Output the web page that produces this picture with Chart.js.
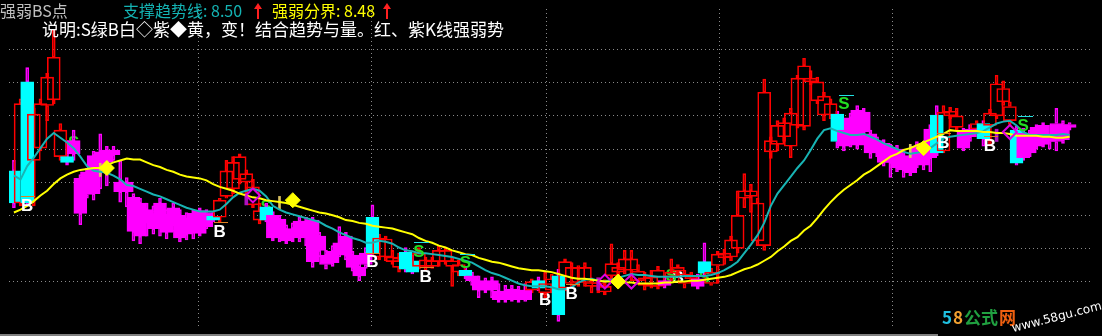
<!DOCTYPE html>
<html>
<head>
<meta charset="utf-8">
<script src="https://cdn.jsdelivr.net/npm/chart.js@4.4.1/dist/chart.umd.min.js"></script>
<style>
  html, body { margin: 0; padding: 0; background: #000; }
  #c { display: block; background: #000; }
</style>
</head>
<body>
<canvas id="c" width="1102" height="336"></canvas>
<script>
// K-line kinds: r = red hollow, m = magenta filled, c = cyan filled
const kinds = ('crcrrrrrcm' + 'mmmmmmmmmm' + 'mmmmmmmmmm' + 'crrrrrrrcm' + 'mmmmmmmmmm' +
  'mmmmcrrrrc' + 'crrrrrrrcm' + 'mmmmmmmmrc' + 'rrcrrrrrrr' + 'rrrrrrrrmr' +
  'rrrmcrrrrr' + 'rrrrrrrrrr' + 'rrrrcmmmmm' + 'mmmmmmmmmc' + 'rrrmmrcrrr' + 'rcmmmmmmmm').split('');

const opens = [
  8.12, 7.78, 9.06, 8.23, 8.36, 8.81, 8.87, 8.27, 8.27, 8.44,
  8.04, 8.11, 8.28, 8.32, 8.34, 8.34, 8.00, 8.00, 7.84, 7.78,
  7.71, 7.68, 7.78, 7.65, 7.73, 7.65, 7.61, 7.67, 7.70, 7.68,
  7.64, 7.63, 7.85, 7.93, 8.03, 8.00, 7.76, 7.60, 7.74, 7.65,
  7.61, 7.50, 7.51, 7.59, 7.59, 7.60, 7.43, 7.23, 7.27, 7.36,
  7.43, 7.23, 7.10, 7.25, 7.63, 7.21, 7.21, 7.16, 7.10, 7.26,
  7.17, 7.11, 7.11, 7.11, 7.16, 7.16, 7.11, 7.05, 7.07, 7.01,
  6.96, 6.95, 6.96, 6.85, 6.85, 6.87, 6.86, 6.86, 6.86, 6.96,
  6.83, 6.86, 7.01, 6.88, 6.93, 6.94, 6.94, 6.90, 6.90, 6.84,
  7.01, 7.05, 7.07, 7.07, 6.96, 6.91, 6.90, 6.90, 6.96, 7.00,
  7.06, 6.93, 6.98, 6.98, 7.16, 6.93, 7.12, 7.20, 7.21, 7.30,
  7.83, 7.85, 7.38, 7.33, 8.32, 8.40, 8.48, 8.38, 8.60, 8.59,
  9.06, 8.86, 8.71, 8.71, 8.72, 8.55, 8.68, 8.76, 8.74, 8.51,
  8.44, 8.41, 8.36, 8.35, 8.28, 8.25, 8.38, 8.33, 8.56, 8.71,
  8.33, 8.70, 8.58, 8.53, 8.56, 8.56, 8.62, 8.60, 8.70, 8.85,
  8.65, 8.55, 8.52, 8.51, 8.58, 8.60, 8.48, 8.62, 8.61, 8.61
];
const closes = [
  7.78, 8.83, 7.78, 8.72, 8.83, 9.11, 9.32, 8.55, 8.21, 8.30,
  7.67, 7.87, 7.88, 8.13, 8.21, 8.29, 7.90, 7.90, 7.48, 7.43,
  7.58, 7.51, 7.55, 7.47, 7.55, 7.41, 7.45, 7.48, 7.46, 7.53,
  7.60, 7.81, 8.12, 8.21, 8.27, 8.09, 7.95, 7.70, 7.60, 7.41,
  7.41, 7.38, 7.43, 7.41, 7.43, 7.16, 7.28, 7.13, 7.15, 7.25,
  7.23, 7.10, 7.01, 7.13, 7.25, 7.41, 7.40, 7.21, 7.20, 7.08,
  7.05, 7.25, 7.18, 7.17, 7.28, 7.28, 7.17, 7.13, 7.01, 6.96,
  6.86, 6.86, 6.86, 6.76, 6.76, 6.77, 6.76, 6.76, 6.95, 6.88,
  6.93, 6.98, 6.60, 7.16, 7.10, 7.10, 7.10, 6.94, 6.94, 6.90,
  7.14, 7.10, 7.19, 7.19, 7.06, 6.99, 7.00, 7.07, 6.91, 7.05,
  7.10, 7.03, 7.01, 6.90, 7.04, 7.05, 7.24, 7.25, 7.39, 7.65,
  7.91, 7.91, 7.78, 8.95, 8.44, 8.60, 8.63, 8.73, 9.10, 9.23,
  9.10, 9.06, 8.91, 8.83, 8.43, 8.38, 8.41, 8.39, 8.53, 8.31,
  8.31, 8.21, 8.21, 8.15, 8.13, 8.10, 8.20, 8.18, 8.26, 8.31,
  8.74, 8.75, 8.70, 8.36, 8.48, 8.62, 8.46, 8.73, 9.04, 8.99,
  8.80, 8.20, 8.26, 8.31, 8.38, 8.40, 8.43, 8.43, 8.45, 8.58
];
const highs = [
  8.23, 8.88, 9.21, 8.78, 8.88, 9.15, 9.61, 8.62, 8.44, 8.55,
  8.08, 8.15, 8.33, 8.51, 8.38, 8.38, 8.23, 8.05, 7.88, 7.83,
  7.78, 7.75, 7.83, 7.71, 7.78, 7.71, 7.68, 7.71, 7.73, 7.71,
  7.68, 7.83, 8.23, 8.27, 8.30, 8.13, 8.03, 7.78, 7.78, 7.69,
  7.65, 7.55, 7.57, 7.63, 7.63, 7.63, 7.47, 7.28, 7.33, 7.53,
  7.47, 7.27, 7.15, 7.31, 7.76, 7.45, 7.43, 7.28, 7.25, 7.31,
  7.23, 7.31, 7.21, 7.21, 7.33, 7.31, 7.21, 7.18, 7.11, 7.05,
  7.01, 6.99, 7.00, 6.93, 6.91, 6.91, 6.90, 6.93, 6.98, 7.00,
  7.05, 7.03, 7.08, 7.19, 7.15, 7.12, 7.15, 6.99, 6.99, 6.97,
  7.35, 7.15, 7.28, 7.28, 7.13, 7.05, 7.07, 7.11, 7.01, 7.19,
  7.13, 7.07, 7.05, 7.03, 7.36, 7.09, 7.27, 7.29, 7.43, 7.91,
  8.09, 7.98, 7.83, 9.09, 8.48, 8.65, 8.68, 8.78, 9.13, 9.31,
  9.18, 9.11, 8.95, 8.88, 8.75, 8.63, 8.73, 8.81, 8.78, 8.55,
  8.48, 8.45, 8.40, 8.39, 8.33, 8.29, 8.43, 8.37, 8.61, 8.81,
  8.81, 8.79, 8.78, 8.57, 8.61, 8.65, 8.65, 8.77, 9.13, 9.07,
  8.85, 8.59, 8.57, 8.55, 8.61, 8.63, 8.51, 8.78, 8.65, 8.63
];
const lows = [
  7.73, 7.75, 7.76, 7.75, 8.33, 8.65, 8.83, 8.23, 8.18, 8.23,
  7.55, 7.83, 7.81, 7.93, 7.96, 8.23, 7.79, 7.74, 7.38, 7.35,
  7.43, 7.45, 7.43, 7.40, 7.48, 7.37, 7.39, 7.40, 7.43, 7.51,
  7.58, 7.58, 7.83, 7.88, 7.98, 7.88, 7.73, 7.56, 7.58, 7.38,
  7.37, 7.35, 7.37, 7.37, 7.33, 7.10, 7.21, 7.08, 7.11, 7.21,
  7.18, 7.06, 6.96, 7.09, 7.21, 7.18, 7.17, 7.13, 7.05, 7.05,
  7.03, 7.08, 7.07, 7.09, 7.11, 7.13, 6.90, 7.01, 6.98, 6.91,
  6.78, 6.83, 6.78, 6.73, 6.73, 6.74, 6.73, 6.74, 6.83, 6.85,
  6.78, 6.83, 6.53, 6.85, 6.88, 6.90, 6.90, 6.83, 6.83, 6.81,
  6.98, 6.93, 7.03, 6.96, 6.93, 6.86, 6.88, 6.87, 6.88, 6.96,
  7.01, 6.88, 6.95, 6.87, 7.01, 6.91, 6.93, 7.13, 7.17, 7.25,
  7.73, 7.68, 7.33, 7.28, 8.25, 8.33, 8.43, 8.26, 8.57, 8.55,
  9.03, 8.83, 8.65, 8.67, 8.36, 8.33, 8.37, 8.35, 8.48, 8.25,
  8.27, 8.17, 8.05, 8.11, 8.05, 8.07, 8.15, 8.13, 8.11, 8.28,
  8.31, 8.67, 8.55, 8.33, 8.43, 8.53, 8.38, 8.38, 8.67, 8.81,
  8.61, 8.18, 8.23, 8.27, 8.35, 8.37, 8.35, 8.33, 8.41, 8.55
];

// 支撑趋势线 (cyan) and 强弱分界 (yellow)
const supportLine = [
  8.07, 8.03, 8.17, 8.26, 8.36, 8.46, 8.52, 8.47, 8.42, 8.36,
  8.27, 8.17, 8.12, 8.11, 8.10, 8.07, 8.03, 7.97, 7.96, 7.93,
  7.90, 7.87, 7.85, 7.82, 7.79, 7.76, 7.73, 7.71, 7.69, 7.69,
  7.69, 7.71, 7.77, 7.84, 7.89, 7.91, 7.93, 7.91, 7.85, 7.75,
  7.71, 7.68, 7.66, 7.64, 7.62, 7.60, 7.58, 7.54, 7.51, 7.47,
  7.44, 7.41, 7.39, 7.36, 7.36, 7.38, 7.37, 7.35, 7.31, 7.28,
  7.27, 7.25, 7.25, 7.24, 7.23, 7.22, 7.21, 7.19, 7.17, 7.15,
  7.11, 7.07, 7.04, 7.02, 6.99, 6.96, 6.93, 6.91, 6.90, 6.90,
  6.90, 6.89, 6.87, 6.87, 6.89, 6.94, 6.97, 6.98, 6.96, 6.95,
  6.97, 6.99, 7.01, 7.03, 7.02, 7.02, 7.01, 7.00, 7.00, 7.00,
  7.00, 7.01, 7.01, 7.01, 7.01, 7.02, 7.04, 7.07, 7.11, 7.16,
  7.25, 7.34, 7.44, 7.57, 7.75, 7.88, 7.97, 8.06, 8.15, 8.23,
  8.34, 8.46, 8.55, 8.57, 8.54, 8.52, 8.50, 8.50, 8.51, 8.48,
  8.45, 8.41, 8.38, 8.35, 8.32, 8.30, 8.31, 8.33, 8.36, 8.41,
  8.46, 8.48, 8.49, 8.50, 8.51, 8.52, 8.54, 8.58, 8.62, 8.64,
  8.65, 8.60, 8.53, 8.50, 8.50, 8.50, 8.50, 8.50, 8.51, 8.50
];
const boundaryLine = [
  7.68, 7.71, 7.75, 7.80, 7.86, 7.91, 7.98, 8.04, 8.08, 8.11,
  8.13, 8.14, 8.15, 8.15, 8.18, 8.21, 8.23, 8.25, 8.24, 8.24,
  8.21, 8.18, 8.16, 8.13, 8.11, 8.08, 8.06, 8.05, 8.04, 8.02,
  7.98, 7.95, 7.93, 7.91, 7.88, 7.86, 7.84, 7.83, 7.81, 7.80,
  7.79, 7.78, 7.76, 7.74, 7.72, 7.70, 7.68, 7.67, 7.65, 7.63,
  7.60, 7.59, 7.57, 7.56, 7.54, 7.53, 7.52, 7.51, 7.49, 7.47,
  7.45, 7.41, 7.38, 7.36, 7.33, 7.31, 7.28, 7.26, 7.24, 7.23,
  7.20, 7.18, 7.16, 7.15, 7.13, 7.11, 7.09, 7.08, 7.07, 7.07,
  7.06, 7.05, 7.03, 7.01, 6.99, 6.98, 6.98, 6.97, 6.96, 6.95,
  6.95, 6.94, 6.94, 6.94, 6.93, 6.93, 6.93, 6.93, 6.94, 6.94,
  6.95, 6.95, 6.96, 6.96, 6.97, 6.98, 6.99, 7.00, 7.02, 7.05,
  7.08, 7.10, 7.13, 7.17, 7.21, 7.27, 7.32, 7.38, 7.42, 7.49,
  7.54, 7.62, 7.71, 7.79, 7.86, 7.92, 7.97, 8.02, 8.08, 8.12,
  8.17, 8.22, 8.27, 8.30, 8.34, 8.36, 8.39, 8.42, 8.45, 8.48,
  8.51, 8.55, 8.54, 8.54, 8.54, 8.54, 8.53, 8.53, 8.52, 8.52,
  8.51, 8.49, 8.49, 8.49, 8.49, 8.48, 8.48, 8.47, 8.47, 8.48
];

// signals: B (white), S (green), hidden = drawn under the K lines
const buyIdx = [2, 31, 54, 62, 80, 84, 100, 140, 147];
const buyVal = [7.75, 7.47, 7.15, 7.00, 6.75, 6.82, 6.98, 8.41, 8.38];
const buyHidden = [0, 0, 0, 0, 1, 0, 1, 0, 0];
const sellIdx = [9, 38, 61, 68, 99, 104, 125, 143, 152];
const sellVal = [8.41, 7.73, 7.26, 7.14, 7.01, 6.98, 8.82, 8.45, 8.59];
const sellHidden = [1, 1, 0, 0, 1, 1, 0, 1, 0];

// diamonds: ◆ yellow, ◇ purple
const yellowDiaIdx = [14, 42, 91, 137];
const yellowDiaVal = [8.15, 7.81, 6.95, 8.36];
const purpleDiaIdx = [36, 89, 93, 150];
const purpleDiaVal = [7.86, 6.95, 6.95, 8.53];

// small sticks
const purpleStickIdx = [35, 88, 148];
const purpleStickLo = [7.76, 6.86, 8.43];
const purpleStickHi = [7.88, 6.99, 8.56];
const yellowStickIdx = [13, 40, 135];
const yellowStickLo = [8.06, 7.71, 8.26];
const yellowStickHi = [8.20, 7.85, 8.40];

// grid positions (price levels / bar index)
const yGrid = [9.40, 9.05, 8.70, 8.35, 8.00, 7.65, 7.30, 6.95];
const xGrid = [27.85, 53.93, 80.15, 106.22, 132.3];

const fill = { r: 'rgba(0,0,0,0)', m: '#ff00ff', c: '#00ffff' };
const edge = { r: '#ff0000', m: '#ff00ff', c: '#00ffff' };
const wick = { r: '#ff0000', m: '#ff00ff', c: '#ff00ff' };

const bodies = opens.map((o, i) => ({ x: i, y: [o, closes[i]] }));
const upper = opens.map((o, i) => ({ x: i, y: [Math.max(o, closes[i]), highs[i]] }));
const lower = opens.map((o, i) => ({ x: i, y: [lows[i], Math.min(o, closes[i])] }));

const cjk = '"Noto Sans CJK SC", sans-serif';

const drawSigns = (chart, hidden) => {
  const ctx = chart.ctx;
  const xs = chart.scales.x, ys = chart.scales.y;
  ctx.save();
  ctx.font = 'bold 17px "Liberation Sans", Arial, sans-serif';
  ctx.textAlign = 'center';
  ctx.textBaseline = 'middle';
  buyIdx.forEach((k, j) => {
    if (!!buyHidden[j] !== hidden) return;
    const x = xs.getPixelForValue(k), y = ys.getPixelForValue(buyVal[j]);
    if (!hidden) {
      ctx.fillStyle = '#e08020';
      ctx.fillRect(Math.round(x - 6), Math.round(y - 10), 14, 1);
    }
    ctx.fillStyle = '#ffffff';
    ctx.fillText('B', x, y);
  });
  sellIdx.forEach((k, j) => {
    if (!!sellHidden[j] !== hidden) return;
    const x = xs.getPixelForValue(k), y = ys.getPixelForValue(sellVal[j]);
    if (!hidden) {
      ctx.fillStyle = '#20e0e0';
      ctx.fillRect(Math.round(x - 5), Math.round(y - 10), 15, 1);
    }
    ctx.fillStyle = '#22dd22';
    ctx.fillText('S', x, y);
  });
  ctx.restore();
};

const drawArrow = (ctx, x) => {
  ctx.fillStyle = '#ff2020';
  ctx.fillRect(x, 5, 2, 14);
  ctx.beginPath();
  ctx.moveTo(x - 3, 9);
  ctx.lineTo(x + 1, 3);
  ctx.lineTo(x + 5, 9);
  ctx.closePath();
  ctx.fill();
};

const overlay = {
  id: 'overlay',
  beforeDatasetsDraw(chart) { drawSigns(chart, true); },
  afterDatasetsDraw(chart) { drawSigns(chart, false); },
  afterDraw(chart) {
    const ctx = chart.ctx;
    ctx.save();
    // frame lines
    ctx.fillStyle = '#808080';
    ctx.fillRect(0, 334, 938, 2);

    // title
    ctx.textBaseline = 'middle';
    ctx.textAlign = 'left';
    ctx.font = '16px ' + cjk;
    ctx.fillStyle = '#c0c0c0';
    ctx.fillText('强弱BS点', 0, 11);
    ctx.fillStyle = '#14b4b4';
    ctx.fillText('支撑趋势线: ' + supportLine[supportLine.length - 1].toFixed(2), 123, 11);
    drawArrow(ctx, 257);
    ctx.fillStyle = '#ffff00';
    ctx.fillText('强弱分界: ' + boundaryLine[boundaryLine.length - 1].toFixed(2), 272, 11);
    drawArrow(ctx, 386);
    ctx.font = '17px ' + cjk;
    ctx.fillStyle = '#ffffff';
    ctx.fillText('说明:S绿B白◇紫◆黄，变！结合趋势与量。红、紫K线强弱势', 42, 30);

    // watermark
    ctx.font = 'bold 17px ' + cjk;
    const parts = [['5', '#20c0e0'], ['8', '#f0a030'], ['公式', '#20a040'], ['网', '#f06010']];
    let wx = 942;
    parts.forEach(([t, c]) => {
      ctx.fillStyle = c;
      ctx.fillText(t, wx, 318);
      wx += ctx.measureText(t).width + 1;
    });
    ctx.translate(1013, 332);
    ctx.rotate(-0.25);
    ctx.font = '12px "DejaVu Sans", sans-serif';
    ctx.fillStyle = '#ffffff';
    ctx.textBaseline = 'alphabetic';
    ctx.fillText('www.58gu.com', 0, 0);
    ctx.restore();
  }
};

const gridOpts = { color: '#8a8a8a', drawTicks: false, lineWidth: 1, offset: false };

new Chart(document.getElementById('c'), {
  type: 'bar',
  data: {
    datasets: [
      {
        type: 'line', label: 'yellow diamonds', order: 0, showLine: false,
        data: yellowDiaIdx.map((k, j) => ({ x: k, y: yellowDiaVal[j] })),
        pointStyle: 'rectRot', pointRadius: 7.5,
        pointBackgroundColor: '#ffff00', pointBorderColor: '#ffff00', pointBorderWidth: 1
      },
      {
        type: 'line', label: 'purple diamonds', order: 1, showLine: false,
        data: purpleDiaIdx.map((k, j) => ({ x: k, y: purpleDiaVal[j] })),
        pointStyle: 'rectRot', pointRadius: 7,
        pointBackgroundColor: 'rgba(0,0,0,0)', pointBorderColor: '#e000e0', pointBorderWidth: 2
      },
      {
        type: 'line', label: '强弱分界', order: 2,
        data: boundaryLine.map((v, i) => ({ x: i, y: v })),
        borderColor: '#ffff00', borderWidth: 2, pointRadius: 0, tension: 0
      },
      {
        type: 'line', label: '支撑趋势线', order: 3,
        data: supportLine.map((v, i) => ({ x: i, y: v })),
        borderColor: '#18b4b4', borderWidth: 2, pointRadius: 0, tension: 0
      },
      {
        label: 'yellow sticks', order: 4, grouped: false, barThickness: 2,
        data: yellowStickIdx.map((k, j) => ({ x: k, y: [yellowStickLo[j], yellowStickHi[j]] })),
        backgroundColor: '#d8c060', borderWidth: 0
      },
      {
        label: 'purple sticks', order: 5, grouped: false, barThickness: 3,
        data: purpleStickIdx.map((k, j) => ({ x: k, y: [purpleStickLo[j], purpleStickHi[j]] })),
        backgroundColor: '#b010c0', borderWidth: 0
      },
      {
        label: 'bodies', order: 6, grouped: false, barThickness: 13,
        data: bodies,
        backgroundColor: kinds.map(k => fill[k]),
        borderColor: kinds.map(k => edge[k]),
        borderWidth: 1, borderSkipped: false
      },
      {
        label: 'upper shadow', order: 7, grouped: false, barThickness: 3,
        data: upper,
        backgroundColor: 'rgba(0,0,0,0)',
        borderColor: kinds.map(k => wick[k]),
        borderWidth: 1, borderSkipped: false
      },
      {
        label: 'lower shadow', order: 8, grouped: false, barThickness: 3,
        data: lower,
        backgroundColor: 'rgba(0,0,0,0)',
        borderColor: kinds.map(k => wick[k]),
        borderWidth: 1, borderSkipped: false
      }
    ]
  },
  options: {
    responsive: false,
    animation: false,
    devicePixelRatio: 1,
    layout: { padding: 0 },
    plugins: { legend: { display: false }, tooltip: { enabled: false } },
    scales: {
      x: {
        type: 'linear', min: -0.7407, max: 162.52, offset: false,
        ticks: { display: false },
        grid: gridOpts,
        border: { display: false, dash: [1, 3] },
        afterBuildTicks: s => { s.ticks = xGrid.map(v => ({ value: v })); }
      },
      y: {
        type: 'linear', min: 6.47, max: 9.83,
        ticks: { display: false },
        grid: gridOpts,
        border: { display: false, dash: [1, 3] },
        afterBuildTicks: s => { s.ticks = yGrid.map(v => ({ value: v })); }
      }
    }
  },
  plugins: [overlay]
});
</script>
</body>
</html>
